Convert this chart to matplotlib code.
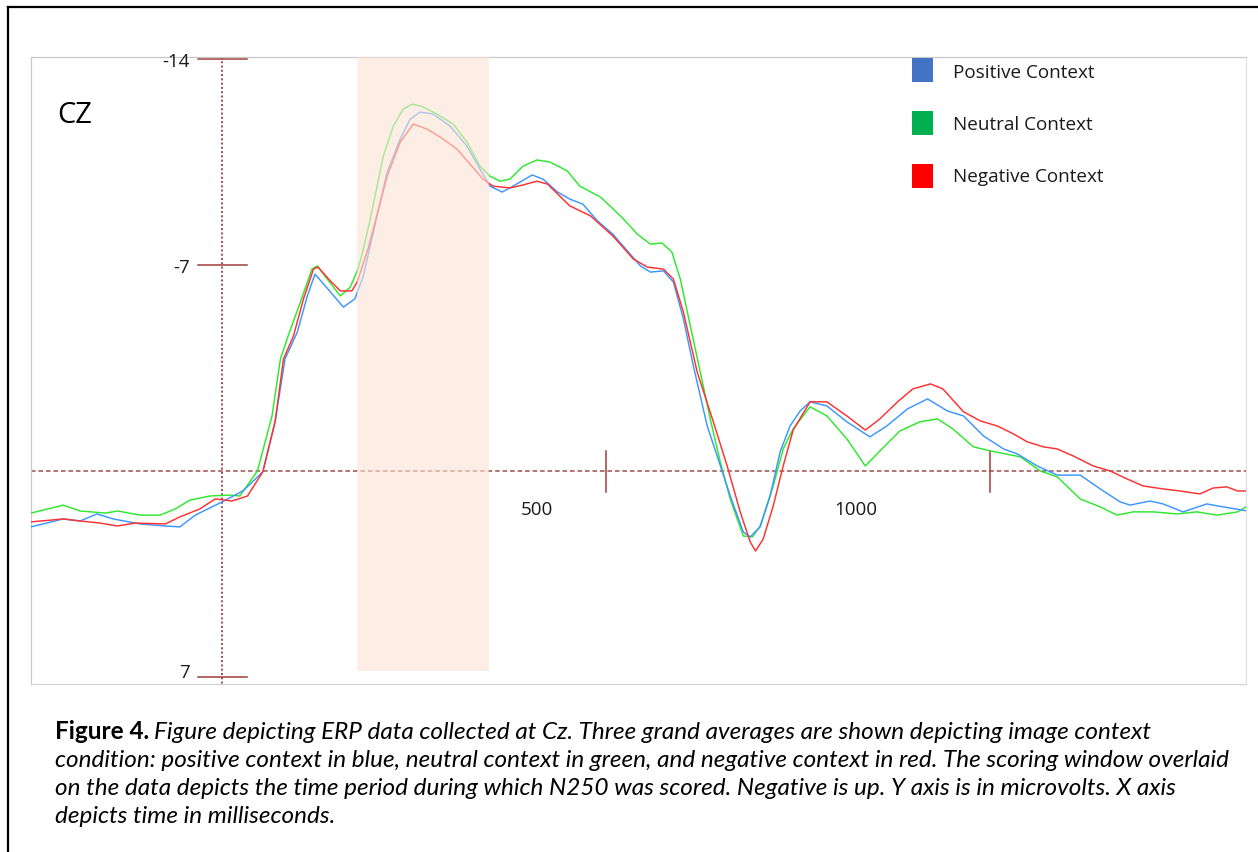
import matplotlib
matplotlib.use("Agg")
import matplotlib.pyplot as plt
from matplotlib.patches import Rectangle
from matplotlib.lines import Line2D

# ---------------- data (time in ms, amplitude in microvolts) ----------------
t_pos = [-249, -207, -185, -163, -142, -107, -74, -55, -35, 0, 27, 53, 69, 82, 98, 111, 121,
         138, 158, 173, 184, 197, 215, 232, 245, 258, 275, 297, 319, 336, 349, 365, 379,
         404, 418, 437, 453, 470, 489, 509, 528, 545, 558, 575, 588, 601, 614, 632, 645,
         662, 679, 688, 701, 714, 727, 740, 753, 766, 788, 814, 844, 866, 893, 919, 945,
         966, 992, 1018, 1036, 1062, 1088, 1118, 1144, 1170, 1183, 1209, 1226, 1252, 1283,
         1304, 1336]
v_pos = [1.90, 1.63, 1.70, 1.46, 1.63, 1.80, 1.87, 1.90, 1.50, 1.05, 0.68, 0.03, -1.67,
         -3.81, -4.72, -5.95, -6.69, -6.18, -5.57, -5.85, -6.63, -8.12, -10.16, -11.28,
         -11.96, -12.20, -12.13, -11.72, -11.04, -10.26, -9.68, -9.48, -9.68, -10.06,
         -9.92, -9.48, -9.24, -9.07, -8.50, -8.05, -7.48, -6.97, -6.76, -6.80, -6.42,
         -5.17, -3.57, -1.53, -0.51, 0.85, 2.07, 2.24, 1.90, 0.85, -0.65, -1.53, -2.04,
         -2.35, -2.21, -1.67, -1.16, -1.53, -2.11, -2.45, -2.04, -1.87, -1.19, -0.75,
         -0.58, -0.17, 0.14, 0.14, 0.61, 1.05, 1.16, 1.02, 1.12, 1.39, 1.12, 1.22, 1.36]

t_neu = [-249, -207, -185, -152, -136, -107, -81, -61, -42, -16, 10, 23, 46, 65, 76, 86,
         102, 117, 124, 137, 154, 167, 177, 184, 193, 210, 223, 236, 248, 262, 280, 301,
         319, 336, 349, 362, 375, 392, 410, 427, 440, 450, 466, 493, 519, 541, 558, 573,
         586, 597, 610, 623, 636, 649, 662, 679, 691, 701, 718, 731, 744, 766, 788, 814,
         838, 857, 883, 909, 932, 952, 979, 1001, 1040, 1066, 1088, 1118, 1144, 1166,
         1187, 1213, 1244, 1270, 1296, 1323, 1336]
v_neu = [1.43, 1.16, 1.36, 1.43, 1.36, 1.50, 1.50, 1.29, 0.99, 0.85, 0.82, 0.85, 0.00,
         -1.87, -3.81, -4.59, -5.74, -6.86, -6.97, -6.52, -5.95, -6.25, -6.86, -7.54,
         -8.56, -10.70, -11.72, -12.30, -12.47, -12.37, -12.13, -11.79, -11.18, -10.36,
         -10.02, -9.85, -9.92, -10.36, -10.57, -10.50, -10.33, -10.19, -9.68, -9.31,
         -8.67, -8.05, -7.71, -7.75, -7.44, -6.52, -4.93, -3.36, -1.77, -0.31, 0.95,
         2.21, 2.24, 1.87, 0.51, -0.75, -1.43, -2.18, -1.87, -1.09, -0.17, -0.68, -1.36,
         -1.67, -1.77, -1.43, -0.82, -0.68, -0.48, 0.00, 0.20, 0.95, 1.22, 1.50, 1.39,
         1.39, 1.46, 1.39, 1.50, 1.39, 1.19]

t_neg = [-249, -207, -185, -159, -137, -113, -74, -55, -29, -9, 13, 33, 53, 69, 80, 93,
         106, 119, 125, 141, 154, 169, 176, 190, 197, 215, 232, 249, 267, 284, 306, 323,
         340, 353, 375, 392, 410, 424, 453, 480, 509, 536, 554, 575, 588, 601, 619, 640,
         658, 675, 688, 695, 705, 718, 731, 744, 766, 788, 814, 838, 857, 880, 900, 923,
         939, 966, 988, 1010, 1031, 1049, 1070, 1088, 1109, 1135, 1157, 1179, 1200, 1226,
         1248, 1274, 1291, 1309, 1323, 1336]
v_neg = [1.73, 1.63, 1.70, 1.77, 1.87, 1.77, 1.80, 1.56, 1.29, 0.95, 1.02, 0.85, 0.03,
         -1.67, -3.81, -4.59, -5.85, -6.86, -6.93, -6.46, -6.12, -6.12, -6.42, -7.54,
         -8.22, -10.02, -11.18, -11.79, -11.62, -11.35, -10.94, -10.43, -9.92, -9.68,
         -9.62, -9.72, -9.85, -9.75, -9.01, -8.67, -7.99, -7.20, -6.93, -6.86, -6.52,
         -5.40, -3.36, -1.67, -0.17, 1.39, 2.41, 2.72, 2.31, 1.19, -0.17, -1.39, -2.35,
         -2.35, -1.87, -1.39, -1.77, -2.35, -2.79, -2.96, -2.79, -2.01, -1.70, -1.53,
         -1.26, -0.99, -0.82, -0.75, -0.51, -0.17, 0.00, 0.27, 0.51, 0.61, 0.68, 0.78,
         0.58, 0.54, 0.68, 0.68]

series_names = ["Positive Context", "Neutral Context", "Negative Context"]
line_colors = ["#3c96ff", "#2ee82e", "#ff3030"]
legend_colors = ["#4472c4", "#00b050", "#ff0000"]

y_ticks = [-14, -7, 7]
y_tick_labels = ["-14", "-7", "7"]
x_ticks = [500, 1000]
x_tick_labels = ["500", "1000"]
window = [176, 348]          # N250 scoring window (ms)
channel = "CZ"

caption_bold = "Figure 4."
caption_lines = [
    "Figure depicting ERP data collected at Cz. Three grand averages are shown depicting image context",
    "condition: positive context in blue, neutral context in green, and negative context in red. The scoring window overlaid",
    "on the data depicts the time period during which N250 was scored. Negative is up. Y axis is in microvolts. X axis",
    "depicts time in milliseconds.",
]

# ---------------- figure ----------------
W, H = 1258, 853
fig = plt.figure(figsize=(W / 100, H / 100), dpi=100)
fig.patch.set_facecolor("white")


def fx(px):
    return px / W


def fy(py):
    return 1 - py / H


# outer document border (left + top)
fig.add_artist(Line2D([fx(7.5), fx(7.5)], [0, fy(7.5)], color="black", lw=1.6))
fig.add_artist(Line2D([fx(7.5), 1], [fy(7.5), fy(7.5)], color="black", lw=1.6))

ax = fig.add_axes([fx(31), fy(685), (1246 - 31) / W, (685 - 58) / H])
XMIN, XMAX = -249, 1334
YTOP, YBOT = -14.07, 7.24
ax.set_xlim(XMIN, XMAX)
ax.set_ylim(YBOT, YTOP)
ax.set_xticks([])
ax.set_yticks([])
for s in ax.spines.values():
    s.set_color("#c8c8c8")
    s.set_linewidth(0.9)
ax.spines["right"].set_color("#e0e0e0")
ax.spines["bottom"].set_color("#d4d4d4")

axis_col = "#9e4c4c"
tick_col = "#a03c3c"
# zero lines
ax.plot([0, 0], [YTOP, YBOT], color=axis_col, lw=1.4, ls=(0, (1, 1.2)), zorder=1)
ax.plot([XMIN, XMAX], [0, 0], color=axis_col, lw=1.1, ls=(0, (3, 1.9)), zorder=1)

# y ticks and labels
vas = ["center_baseline", "center_baseline", "baseline"]
for yt, lab, va in zip(y_ticks, y_tick_labels, vas):
    ax.plot([-31, 33], [yt, yt], color=tick_col, lw=1.1, zorder=2, clip_on=False)
    ax.text(-42, yt, lab, ha="right", va=va, fontsize=13.5, family="Open Sans",
            color="#1a1a1a")
# x ticks
for xt in x_ticks:
    ax.plot([xt, xt], [-0.68, 0.71], color=tick_col, lw=1.1, zorder=2)
for xc, lab in zip([410, 826], x_tick_labels):
    ax.text(xc, 1.46, lab, ha="center", va="baseline", fontsize=13.5,
            family="Open Sans", color="#1a1a1a")

# ERP curves
ax.plot(t_neu, v_neu, color=line_colors[1], lw=1.05, zorder=3)
ax.plot(t_pos, v_pos, color=line_colors[0], lw=1.05, zorder=3)
ax.plot(t_neg, v_neg, color=line_colors[2], lw=1.05, zorder=3)

# scoring window overlay (drawn over the lines)
ax.add_patch(Rectangle((window[0], YTOP), window[1] - window[0], 6.80 - YTOP,
                       facecolor="#fce4d4", edgecolor="none", alpha=0.6, zorder=4))

# channel label
ax.text(fx(57), fy(123), channel, transform=fig.transFigure, fontsize=21,
        family="Open Sans", color="black", va="baseline")

# legend
renderer = fig.canvas.get_renderer()


def fit_size(txt, target_px, **kw):
    t = fig.text(0, 0, txt, fontsize=10, **kw)
    w = t.get_window_extent(renderer).width
    t.remove()
    return 10 * target_px / w


leg_size = fit_size(series_names[0], 142, family="Open Sans")
for i, (name, col) in enumerate(zip(series_names, legend_colors)):
    top = [59, 112, 165][i]
    fig.add_artist(Rectangle((fx(912), fy(top + 24)), 21 / W, 24 / H,
                             transform=fig.transFigure, facecolor=col,
                             edgecolor="none"))
    fig.text(fx(953), fy([78, 130, 182][i]), name, fontsize=leg_size,
             family="Open Sans", color="#1a1a1a", va="baseline")

# caption
cap_size = fit_size(caption_lines[1], 1177, family="Lato", style="italic")
baselines = [739, 767, 795, 823]
tb = fig.text(fx(55), fy(baselines[0]), caption_bold, fontsize=cap_size,
              family="Lato", weight="bold", va="baseline", color="black")
bw = tb.get_window_extent(renderer).width
fig.text(fx(55 + bw + 5), fy(baselines[0]), caption_lines[0], fontsize=cap_size,
         family="Lato", style="italic", va="baseline", color="black")
for line, b in zip(caption_lines[1:], baselines[1:]):
    fig.text(fx(55), fy(b), line, fontsize=cap_size, family="Lato",
             style="italic", va="baseline", color="black")

fig.savefig("out.png", dpi=100)
